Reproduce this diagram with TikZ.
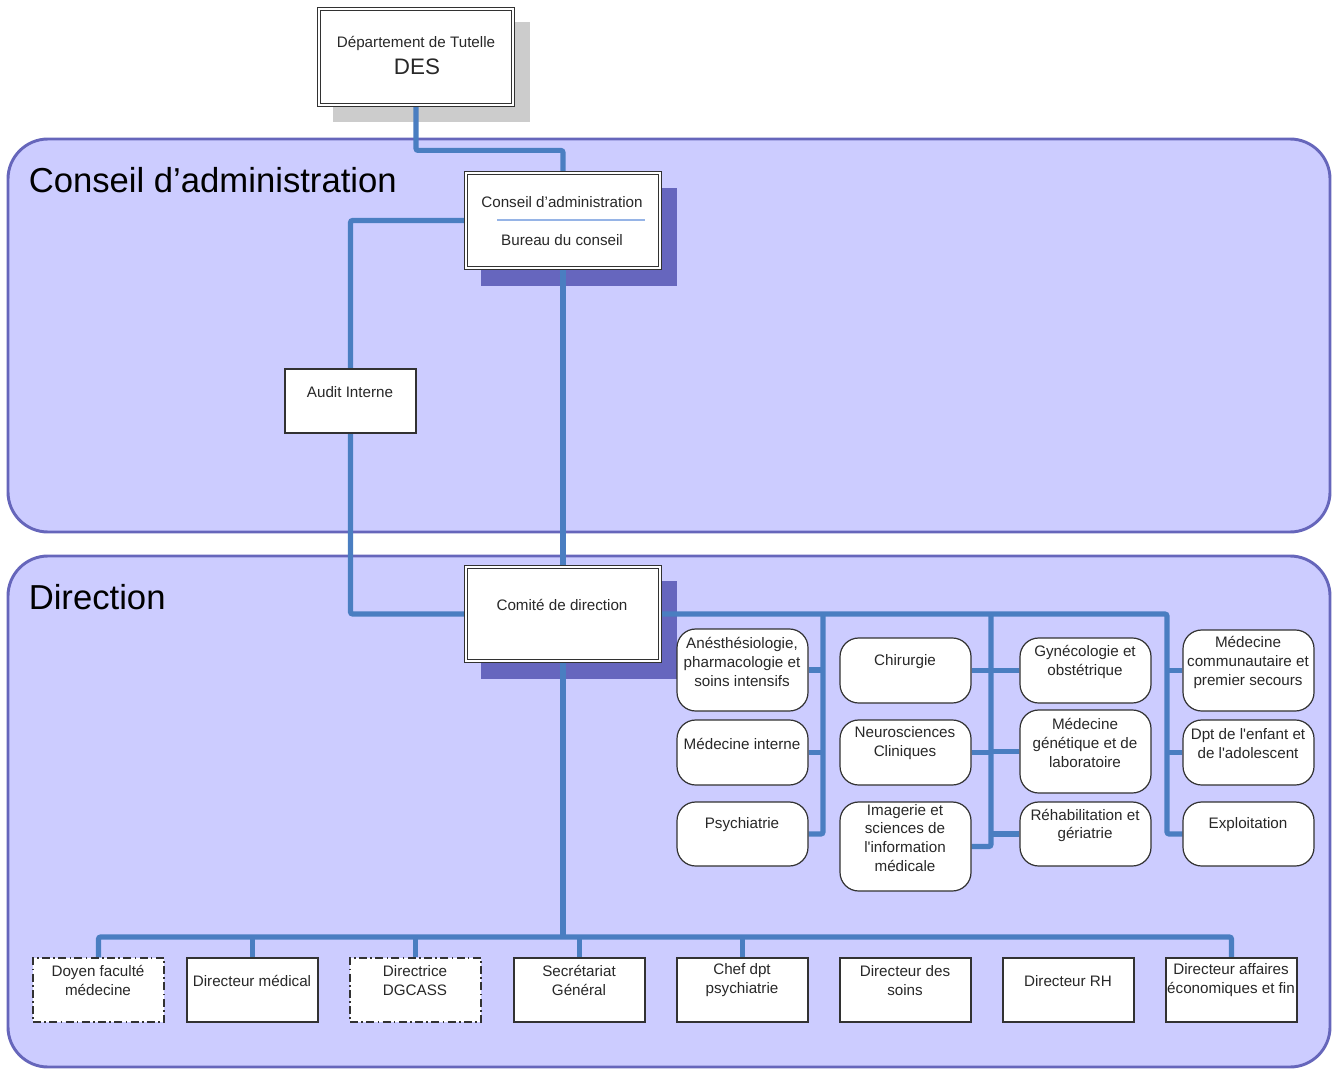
\documentclass[tikz,border=0pt]{standalone}
\usepackage{fontspec}
\setmainfont{Liberation Sans}
\usetikzlibrary{fit}

\definecolor{panelfill}{RGB}{204,204,255}
\definecolor{paneledge}{RGB}{102,102,187}
\definecolor{linkblue}{RGB}{74,126,193}
\definecolor{shadowblue}{RGB}{102,102,190}
\definecolor{shadowgray}{RGB}{204,204,204}
\definecolor{boxedge}{RGB}{50,50,50}
\definecolor{txtgray}{RGB}{40,40,40}
\definecolor{rulelight}{RGB}{150,180,230}

\pgfdeclarelayer{back}
\pgfdeclarelayer{front}
\pgfsetlayers{back,main,front}

\tikzset{
  panel/.style={draw=paneledge, line width=2.2pt, fill=panelfill, rounded corners=30pt, inner sep=0pt},
  shade/.style={draw=none, inner sep=0pt},
  dbox/.style={draw=boxedge, double=white, double distance=1.6pt, line width=0.7pt, fill=white, inner sep=0pt},
  sbox/.style={draw=boxedge, line width=0.9pt, fill=white, inner sep=0pt},
  rbox/.style={sbox, rounded corners=14pt},
  ddbox/.style={sbox, dash pattern=on 6pt off 2.5pt on 1.2pt off 2.5pt},
  txt/.style={font=\fontsize{11.4}{14}\selectfont, text=txtgray, align=center, inner sep=0pt, yshift=-1.4pt},
  title/.style={font=\fontsize{26}{30}\selectfont, anchor=west, inner sep=0pt},
  conn/.style={draw=linkblue, line width=3.8pt, rounded corners=1.5pt}
}

\begin{document}
\begin{tikzpicture}[x=0.75pt, y=-0.75pt]
\useasboundingbox (0,0) rectangle (1337,1069);

% ---------- panels and drop shadows ----------
\begin{pgfonlayer}{back}
  \node[panel, fit={(8,139) (1330,532)}] (board) {};
  \node[panel, fit={(8,556) (1330,1067)}] (direction) {};
  \node[title] (board-t) at (28.5,180) {Conseil d’administration};
  \node[title] (direction-t) at (28.5,597) {Direction};

  \node[shade, fill=shadowgray, fit={(333,22) (530,122)}] (des-sh) {};
  \node[shade, fill=shadowblue, fit={(481,188) (677,286)}] (conseil-sh) {};
  \node[shade, fill=shadowblue, fit={(481,581) (677,679)}] (comite-sh) {};
\end{pgfonlayer}

% ---------- boxes ----------
\begin{pgfonlayer}{front}
  \node[dbox, fit={(319,9) (513,105)}] (des) {};
  \node[txt] (des-t1) at (416,42) {Département de Tutelle};
  \node[txt, font=\fontsize{16.8}{20}\selectfont] (des-t2) at (417,65) {DES};

  \node[dbox, fit={(466,173) (660,268)}] (conseil) {};
  \node[txt] (conseil-t1) at (562,200) {Conseil d’administration};
  \draw[rulelight, line width=1.2pt] (497,220) -- (645,220);
  \node[txt] (conseil-t2) at (562,238) {Bureau du conseil};

  \node[sbox, fit={(285,369) (416,433)}] (audit) {};
  \node[txt] (audit-t) at (350,390) {Audit Interne};

  \node[dbox, fit={(466,567) (660,661)}] (comite) {};
  \node[txt] (comite-t) at (562,603) {Comité de direction};

  % departments
  \node[rbox, fit={(677,629) (808,711)}] (anes) {};
  \node[txt] (anes-t) at (742,660) {Anésthésiologie,\\pharmacologie et\\soins intensifs};
  \node[rbox, fit={(677,720) (808,785)}] (medint) {};
  \node[txt] (medint-t) at (742,742) {Médecine interne};
  \node[rbox, fit={(677,802) (808,866)}] (psy) {};
  \node[txt] (psy-t) at (742,823) {Psychiatrie};

  \node[rbox, fit={(840,638) (971,703)}] (chir) {};
  \node[txt] (chir-t) at (905,660) {Chirurgie};
  \node[rbox, fit={(840,720) (971,785)}] (neuro) {};
  \node[txt] (neuro-t) at (905,741.5) {Neurosciences\\Cliniques};
  \node[rbox, fit={(840,802) (971,891)}] (imag) {};
  \node[txt] (imag-t) at (905,836) {Imagerie et\\sciences de\\l\textquotesingle information\\médicale};

  \node[rbox, fit={(1020,638) (1151,703)}] (gyn) {};
  \node[txt] (gyn-t) at (1085,660) {Gynécologie et\\obstétrique};
  \node[rbox, fit={(1020,710) (1151,793)}] (gen) {};
  \node[txt] (gen-t) at (1085,741) {Médecine\\génétique et de\\laboratoire};
  \node[rbox, fit={(1020,802) (1151,866)}] (rehab) {};
  \node[txt] (rehab-t) at (1085,823.5) {Réhabilitation et\\gériatrie};

  \node[rbox, fit={(1183,630) (1314,711)}] (comm) {};
  \node[txt] (comm-t) at (1248,660.5) {Médecine\\communautaire et\\premier secours};
  \node[rbox, fit={(1183,720) (1314,785)}] (enf) {};
  \node[txt] (enf-t) at (1248,741.5) {Dpt de l\textquotesingle enfant et\\de l\textquotesingle adolescent};
  \node[rbox, fit={(1183,802) (1314,866)}] (expl) {};
  \node[txt] (expl-t) at (1248,823) {Exploitation};

  % directors
  \node[ddbox, fit={(33,958) (164,1022)}] (doyen) {};
  \node[txt] (doyen-t) at (98,978.5) {Doyen faculté\\médecine};
  \node[sbox, fit={(187,958) (318,1022)}] (dirmed) {};
  \node[txt] (dirmed-t) at (252,979) {Directeur médical};
  \node[ddbox, fit={(350,958) (481,1022)}] (dgcass) {};
  \node[txt] (dgcass-t) at (415,978.5) {Directrice\\DGCASS};
  \node[sbox, fit={(514,958) (645,1022)}] (secr) {};
  \node[txt] (secr-t) at (579,978.5) {Secrétariat\\Général};
  \node[sbox, fit={(677,958) (808,1022)}] (chef) {};
  \node[txt] (chef-t) at (742,978.5) {Chef dpt\\psychiatrie};
  \node[sbox, fit={(840,958) (971,1022)}] (soins) {};
  \node[txt] (soins-t) at (905,978.5) {Directeur des\\soins};
  \node[sbox, fit={(1003,958) (1134,1022)}] (rh) {};
  \node[txt] (rh-t) at (1068,979) {Directeur RH};
  \node[sbox, fit={(1166,958) (1297,1022)}] (daf) {};
  \node[txt] (daf-t) at (1231,978.5) {Directeur affaires\\économiques et fin};
\end{pgfonlayer}

% ---------- connectors ----------
\coordinate (j1) at (823,614);
\coordinate (j2) at (991,614);
\coordinate (j3) at (1167,614);
\coordinate (bus) at (563,937);

\draw[conn] (des.south) -- ++(0,45) -| (conseil.north);
\draw[conn] (conseil.west) -| (audit.north);
\draw[conn] (audit.south) |- (comite.west);
\draw[conn] (conseil.south) -- (comite.north);

\draw[conn] (comite.east) -- (j3) |- (expl.west);
\draw[conn] (j1) |- (psy.east);
\draw[conn] (anes.east) -- (anes.east -| j1);
\draw[conn] (medint.east) -- (medint.east -| j1);
\draw[conn] (j2) |- (imag.east);
\draw[conn] (chir.east) -- (chir.east -| j2);
\draw[conn] (neuro.east) -- (neuro.east -| j2);
\draw[conn] (gyn.west) -- (gyn.west -| j2);
\draw[conn] (gen.west) -- (gen.west -| j2);
\draw[conn] (rehab.west) -- (rehab.west -| j2);
\draw[conn] (comm.west) -- (comm.west -| j3);
\draw[conn] (enf.west) -- (enf.west -| j3);

\draw[conn] (comite.south) -- (bus);
\draw[conn] (doyen.north) -- (doyen.north |- bus) -- (daf.north |- bus) -- (daf.north);
\draw[conn] (dirmed.north) -- (dirmed.north |- bus);
\draw[conn] (dgcass.north) -- (dgcass.north |- bus);
\draw[conn] (secr.north) -- (secr.north |- bus);
\draw[conn] (chef.north) -- (chef.north |- bus);
\end{tikzpicture}
\end{document}
